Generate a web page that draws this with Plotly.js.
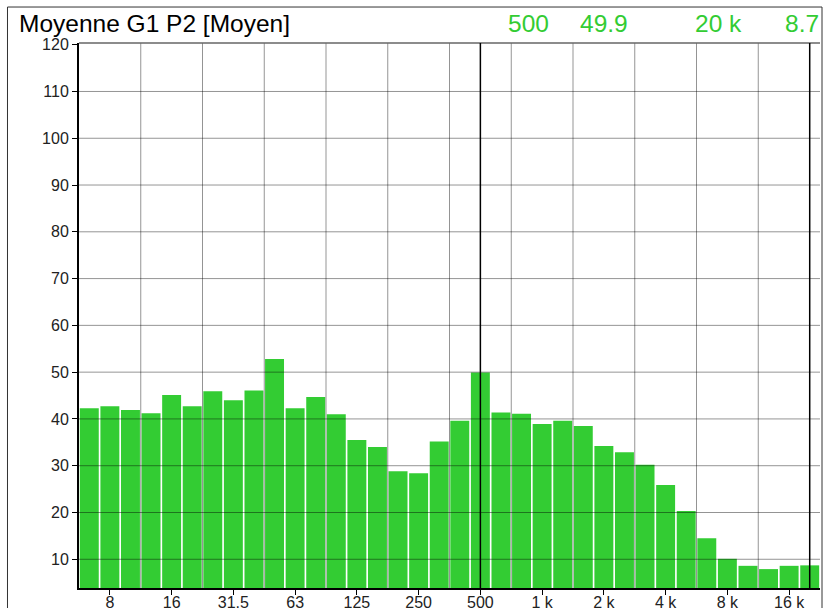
<!DOCTYPE html>
<html>
<head>
<meta charset="utf-8">
<script src="https://cdn.plot.ly/plotly-3.0.1.min.js"></script>
<style>
html,body{margin:0;padding:0;background:#fff;}
#chart{width:824px;height:608px;}
</style>
</head>
<body>
<div id="chart"></div>
<script>
// Third-octave bands (Hz) and levels (dB)
const bands = ['6.3','8','10','12.5','16','20','25','31.5','40','50','63','80','100','125','160','200','250','315','400','500','630','800','1 k','1.25 k','1.6 k','2 k','2.5 k','3.15 k','4 k','5 k','6.3 k','8 k','10 k','12.5 k','16 k','20 k'];
const levels = [42.3,42.7,41.9,41.2,45.1,42.7,45.9,44.0,46.1,52.8,42.3,44.7,41.0,35.5,34.0,28.8,28.4,35.2,39.6,49.9,41.4,41.1,38.9,39.6,38.5,34.2,32.9,30.2,25.9,20.3,14.5,10.1,8.6,7.9,8.6,8.7];
const tickLabels = ['8','16','31.5','63','125','250','500','1 k','2 k','4 k','8 k','16 k'];
const yTicks = [10,20,30,40,50,60,70,80,90,100,110,120];
const cursors = ['500','20 k'];
const chartTitle = 'Moyenne G1 P2 [Moyen]';

const FONT = 'Arial, "Liberation Sans", sans-serif';
const GREEN = '#33CC33';
const GRID = 'rgba(0,0,0,0.42)';

const shapes = [];
// horizontal gridlines above bars
yTicks.filter(v => v < 120).forEach(v => {
  shapes.push({type:'line', xref:'paper', yref:'y', x0:0, x1:1, y0:v, y1:v,
    line:{color:GRID, width:1}, layer:'above'});
});
// vertical gridlines halfway between labelled octave ticks
tickLabels.slice(0, -1).forEach(t => {
  const i = bands.indexOf(t) + 1.5;
  shapes.push({type:'line', xref:'x', yref:'paper', x0:i, x1:i, y0:0, y1:1,
    line:{color:GRID, width:1}, layer:'above'});
});
// top border of plot area
shapes.push({type:'line', xref:'paper', yref:'paper', x0:0, x1:1, y0:1, y1:1,
  line:{color:'#666', width:1.5}, layer:'above'});
// cursors
cursors.forEach(c => {
  const i = bands.indexOf(c);
  shapes.push({type:'line', xref:'x', yref:'paper', x0:i, x1:i, y0:0, y1:1,
    line:{color:'#000', width:1.5}, layer:'above'});
});
// outer frame
shapes.push({type:'rect', xref:'paper', yref:'paper', x0:-0.0965, x1:1.0027, y0:-0.07, y1:1.066,
  line:{color:'#333', width:1}, fillcolor:'rgba(0,0,0,0)', layer:'above'});

const annotations = [
  {text: chartTitle, xref:'paper', yref:'paper', x:-0.083, y:1.036, xanchor:'left', yanchor:'middle',
   showarrow:false, font:{family:FONT, size:24.5, color:'#000'}}
];
const c1 = bands.indexOf(cursors[0]), c2 = bands.indexOf(cursors[1]);
const headerItems = [
  [cursors[0], 551], [levels[c1].toFixed(1), 630],
  [cursors[1], 744], [levels[c2].toFixed(1), 821]
];
headerItems.forEach(([t, px]) => {
  annotations.push({text:t, xref:'paper', yref:'paper', x:(px-79)/741, y:1.036,
    xanchor:'right', yanchor:'middle', showarrow:false,
    font:{family:FONT, size:24.5, color:GREEN}});
});

const data = [{
  type:'bar', x:bands, y:levels,
  marker:{color:GREEN, line:{width:0}},
  hoverinfo:'x+y'
}];

const layout = {
  width:824, height:608,
  margin:{l:79, r:4, t:43, b:20, pad:0},
  paper_bgcolor:'#fff', plot_bgcolor:'#fff',
  showlegend:false,
  bargap:0.08,
  font:{family:FONT, size:16, color:'#222'},
  xaxis:{
    type:'category', range:[-0.5, 35.5],
    tickmode:'array', tickvals:tickLabels, ticktext:tickLabels,
    showgrid:false, zeroline:false,
    showline:true, linecolor:'#000', linewidth:2,
    ticks:'outside', ticklen:5, tickcolor:'#000', tickwidth:1,
    ticklabelstandoff:-6,
    tickfont:{family:FONT, size:16, color:'#222'},
    fixedrange:true
  },
  yaxis:{
    range:[3.86, 120.36],
    tickmode:'array', tickvals:yTicks,
    showgrid:false, zeroline:false,
    showline:true, linecolor:'#000', linewidth:2,
    ticks:'outside', ticklen:5, tickcolor:'#000', tickwidth:1,
    tickfont:{family:FONT, size:16, color:'#222'},
    fixedrange:true
  },
  shapes:shapes,
  annotations:annotations
};

Plotly.newPlot('chart', data, layout, {displayModeBar:false, staticPlot:true});
</script>
</body>
</html>
